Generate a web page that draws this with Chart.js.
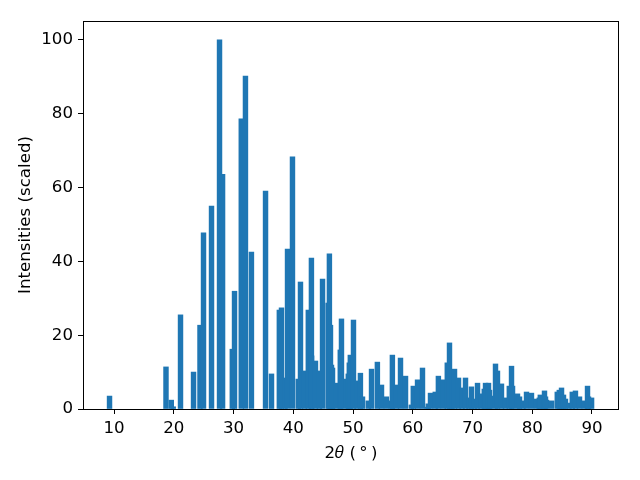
<!DOCTYPE html>
<html>
<head>
<meta charset="utf-8">
<script src="https://cdn.jsdelivr.net/npm/chart.js@4/dist/chart.umd.min.js"></script>
<style>
  html, body { margin: 0; padding: 0; background: #fff; }
  #c { display: block; }
</style>
</head>
<body>
<canvas id="c" width="640" height="480"></canvas>
<script>
// Peak positions (2θ, degrees)
const twoTheta = [
  9.25, 18.70, 19.59, 19.91, 21.13, 23.31, 24.39, 24.98, 26.32, 27.66,
  28.17, 29.80, 30.17, 31.30, 32.00, 33.00, 35.36, 36.36, 37.67, 38.03,
  38.62, 39.04, 39.87, 40.84, 41.21, 41.88, 42.52, 43.04, 43.07, 43.72,
  44.38, 44.90, 45.84, 46.05, 46.23, 46.40, 46.57, 47.22, 47.87, 48.07,
  48.88, 49.21, 49.38, 49.55, 50.08, 50.67, 51.24, 51.59, 52.56, 53.10,
  54.08, 54.77, 55.59, 56.41, 56.59, 57.28, 57.95, 58.79, 59.77, 60.09,
  60.80, 61.63, 62.44, 62.60, 62.97, 63.77, 64.29, 65.11, 65.78, 66.15,
  66.56, 66.99, 67.66, 68.24, 68.83, 69.41, 69.83, 70.33, 70.84, 71.42,
  71.97, 72.18, 72.68, 72.85, 73.01, 73.85, 74.18, 74.85, 75.52, 76.16,
  76.53, 76.70, 77.53, 77.87, 78.45, 79.04, 79.87, 80.73, 81.18, 81.35,
  82.05, 82.22, 82.39, 83.25, 84.19, 84.53, 84.90, 85.23, 85.56, 86.15,
  86.70, 87.23, 87.91, 88.71, 89.25, 89.42, 89.93
];
// Scaled intensities
const intensities = [
  3.5, 11.4, 2.4, 0.6, 25.5, 10.0, 22.7, 47.7, 55.0, 100.0,
  63.6, 16.2, 31.9, 78.6, 90.2, 42.5, 59.0, 9.5, 26.8, 27.4,
  8.4, 43.3, 68.3, 8.1, 34.4, 10.3, 26.8, 40.9, 14.4, 13.0,
  10.3, 35.2, 28.7, 42.0, 22.7, 11.9, 11.1, 7.0, 16.0, 24.4,
  8.1, 9.5, 12.5, 14.6, 24.1, 7.6, 9.7, 3.3, 2.2, 10.8,
  12.7, 6.5, 3.3, 2.2, 14.6, 6.5, 13.8, 8.9, 1.1, 6.2,
  7.9, 11.1, 0.5, 1.4, 4.3, 4.6, 8.9, 7.9, 12.5, 17.9,
  10.3, 10.8, 8.4, 5.7, 8.4, 3.0, 6.0, 2.7, 7.0, 4.1,
  5.4, 7.0, 7.0, 5.1, 3.5, 12.2, 10.3, 6.8, 3.0, 6.2,
  11.6, 6.2, 4.1, 3.3, 2.2, 4.6, 4.3, 2.7, 3.0, 3.8,
  4.9, 3.3, 2.4, 2.2, 4.6, 5.1, 5.7, 3.8, 2.7, 1.6,
  4.6, 4.9, 3.3, 2.2, 6.2, 3.3, 3.0
];
const xTicks = [10, 20, 30, 40, 50, 60, 70, 80, 90];
const yTicks = [0, 20, 40, 60, 80, 100];
const xLabel = '2\u{1D703} (\u2009\u00B0\u2009)';
const yLabel = 'Intensities (scaled)';

const points = twoTheta.map((x, i) => ({ x: x, y: intensities[i] }));

const framePlugin = {
  id: 'frame',
  afterDraw(chart) {
    const { ctx, chartArea: a } = chart;
    ctx.save();
    ctx.strokeStyle = '#000';
    ctx.lineWidth = 1;
    ctx.strokeRect(Math.round(a.left) + 0.5, Math.round(a.top) + 0.5,
                   Math.round(a.right - a.left) - 1, Math.round(a.bottom - a.top));
    ctx.restore();
  }
};

const font = { family: '"DejaVu Sans", sans-serif', size: 16.67 };

new Chart(document.getElementById('c'), {
  type: 'bar',
  data: {
    datasets: [{
      data: points,
      backgroundColor: '#1f77b4',
      borderWidth: 0,
      barThickness: 4.78,
      grouped: false
    }]
  },
  options: {
    responsive: false,
    animation: false,
    devicePixelRatio: 1,
    layout: { padding: { left: 0, right: 21, top: 21, bottom: 0 } },
    plugins: { legend: { display: false }, tooltip: { enabled: false } },
    scales: {
      x: {
        type: 'linear',
        min: 4.81,
        max: 94.52,
        offset: false,
        afterFit: (s) => { s.height = 71; },
        afterBuildTicks: (s) => { s.ticks = xTicks.map(v => ({ value: v })); },
        grid: { display: true, offset: false, drawOnChartArea: false, drawTicks: true,
                tickLength: 5, color: '#000', tickColor: '#000' },
        border: { display: false },
        ticks: { color: '#000', font: font, padding: 5, maxRotation: 0 },
        title: { display: true, text: xLabel, color: '#000', font: font,
                 padding: { top: 0, bottom: 16 } }
      },
      y: {
        type: 'linear',
        min: 0,
        max: 105.1,
        afterFit: (s) => { s.width = 83; },
        afterBuildTicks: (s) => { s.ticks = yTicks.map(v => ({ value: v })); },
        grid: { display: true, drawOnChartArea: false, drawTicks: true,
                tickLength: 5, color: '#000', tickColor: '#000' },
        border: { display: false },
        ticks: { color: '#000', font: font, padding: 5 },
        title: { display: true, text: yLabel, color: '#000', font: font,
                 padding: { top: 16, bottom: 0 } }
      }
    }
  },
  plugins: [framePlugin]
});
</script>
</body>
</html>
